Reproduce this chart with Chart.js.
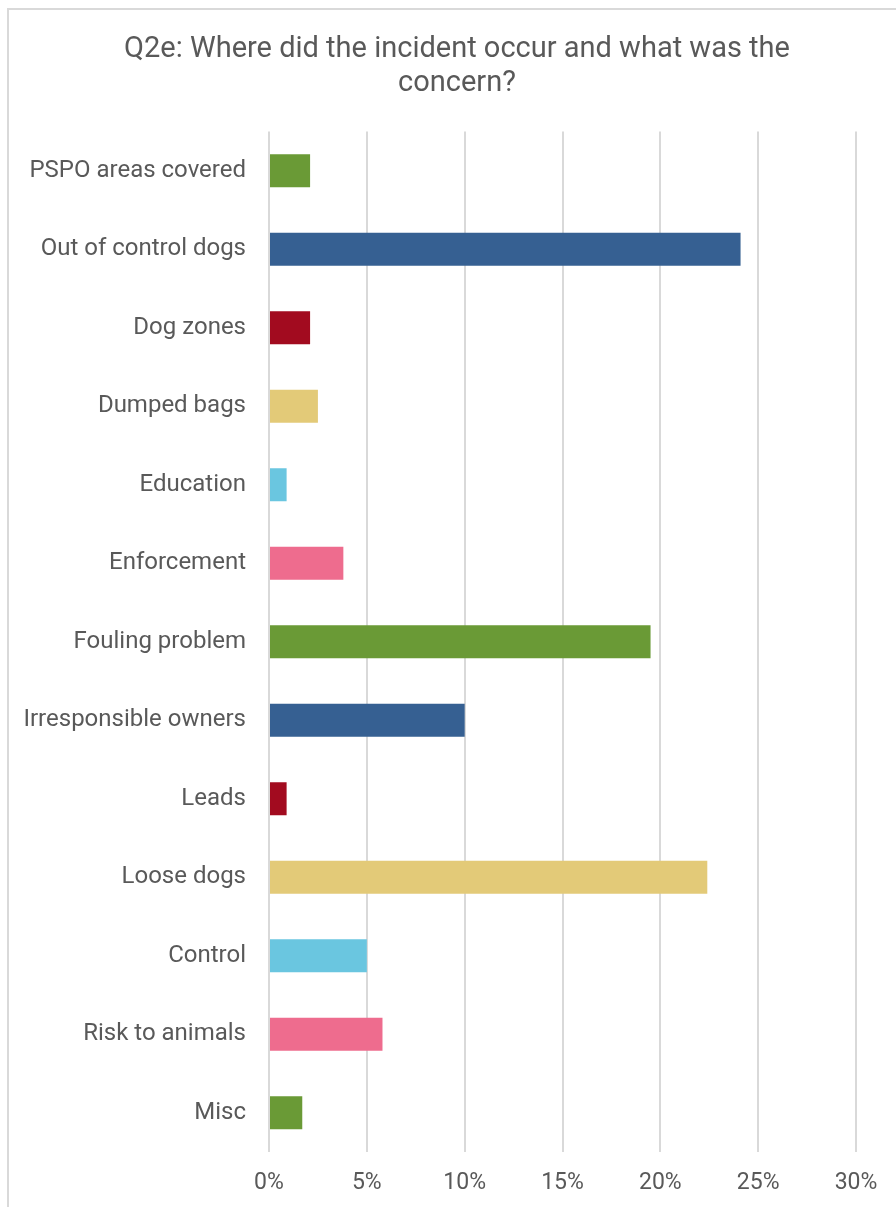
<!DOCTYPE html>
<html>
<head>
<meta charset="utf-8">
<script src="https://cdn.jsdelivr.net/npm/chart.js@4"></script>
<style>
  html, body { margin: 0; padding: 0; background: #fff; }
  #wrap { position: absolute; left: 0; top: 0; width: 896px; height: 1207px; }
</style>
</head>
<body>
<div id="wrap"><canvas id="chart"></canvas></div>
<script>
// Categories, top to bottom
const categories = [
    'PSPO areas covered', 'Out of control dogs', 'Dog zones', 'Dumped bags',
    'Education', 'Enforcement', 'Fouling problem', 'Irresponsible owners',
    'Leads', 'Loose dogs', 'Control', 'Risk to animals', 'Misc'
];
// Share of responses (%)
const shares = [2.1, 24.1, 2.1, 2.5, 0.9, 3.8, 19.5, 10.0, 0.9, 22.4, 5.0, 5.8, 1.7];
const barColors = [
    '#6A9A36', '#366092', '#A20B1F', '#E3CA78', '#6AC6E0', '#EE6C8E',
    '#6A9A36', '#366092', '#A20B1F', '#E3CA78', '#6AC6E0', '#EE6C8E', '#6A9A36'
];
const titleLines = ['Q2e: Where did the incident occur and what was the', 'concern?'];

// Light frame round the chart (only top and left edges show)
const framePlugin = {
    id: 'frame',
    beforeDraw(chart) {
        const ctx = chart.ctx;
        ctx.save();
        ctx.strokeStyle = '#d9d9d9';
        ctx.lineWidth = 2;
        ctx.beginPath();
        ctx.moveTo(8, chart.height);
        ctx.lineTo(8, 9);
        ctx.lineTo(chart.width, 9);
        ctx.stroke();
        ctx.restore();
    }
};

const ctx = document.getElementById('chart').getContext('2d');
new Chart(ctx, {
    type: 'bar',
    data: {
        labels: categories,
        datasets: [{
            data: shares,
            backgroundColor: barColors,
            borderWidth: 0,
            barPercentage: 0.42,
            categoryPercentage: 1
        }]
    },
    options: {
        indexAxis: 'y',
        responsive: true,
        maintainAspectRatio: false,
        animation: false,
        layout: { padding: { left: 18, right: 0, top: 0, bottom: 0 } },
        scales: {
            x: {
                min: 0,
                max: 30,
                ticks: {
                    stepSize: 5,
                    color: '#595959',
                    font: { family: 'Roboto', size: 23 },
                    padding: 17,
                    callback: (v) => v + '%'
                },
                grid: { color: '#d9d9d9', lineWidth: 2, drawTicks: false },
                border: { display: false },
                afterFit(axis) {
                    axis.height = 55;
                    axis.paddingRight = 40;  // keeps 30% line in from the right edge
                }
            },
            y: {
                ticks: {
                    color: '#595959',
                    font: { family: 'Roboto', size: 24 },
                    padding: 15
                },
                grid: { display: false },
                border: { display: false },
                afterFit(axis) { axis.width = 251; }
            }
        },
        plugins: {
            legend: { display: false },
            tooltip: { enabled: false },
            title: {
                display: true,
                text: titleLines,
                color: '#595959',
                font: { family: 'Roboto', size: 29, weight: 'normal', lineHeight: 1.2 },
                padding: { top: 32, bottom: 30 }
            }
        }
    },
    plugins: [framePlugin]
});
</script>
</body>
</html>
